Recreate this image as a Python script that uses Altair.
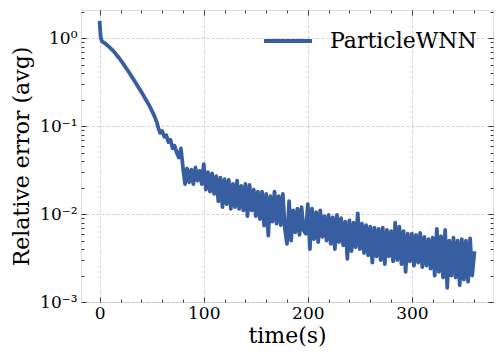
import altair as alt
import pandas as pd

# ---- data ----
series_name = "ParticleWNN"

time_s = [0, 0.5, 1, 2, 3, 5, 7, 9, 11, 13, 15, 17, 19, 21, 23, 25, 27, 29, 31, 33,
          35, 37, 39, 41, 43, 45, 47, 49, 51, 53, 55,
          56, 58, 60, 62, 64, 66, 68, 70, 72, 74, 76, 78, 80, 82, 84, 86, 88, 90, 92, 94,
          96, 98, 100, 102, 104, 106, 108, 110, 112, 114, 116, 118, 120, 122, 124, 126,
          128, 130, 132, 134, 136, 138, 140, 142, 144, 146, 148, 150, 152, 154, 156, 158,
          160, 162, 164, 166, 168, 170, 172, 174, 176, 178, 180, 182, 184, 186, 188, 190,
          192, 194, 196, 198, 200, 202, 204, 206, 208, 210, 212, 214, 216, 218, 220, 222,
          224, 226, 228, 230, 232, 234, 236, 238, 240, 242, 244, 246, 248, 250, 252, 254,
          256, 258, 260, 262, 264, 266, 268, 270, 272, 274, 276, 278, 280, 282, 284, 286,
          288, 290, 292, 294, 296, 298, 300, 302, 304, 306, 308, 310, 312, 314, 316, 318,
          320, 322, 324, 326, 328, 330, 332, 334, 336, 338, 340, 342, 344, 346, 348, 350,
          352, 354, 356, 358, 360]

rel_error = [1.50, 1.20, 1.02, 0.93, 0.91, 0.877, 0.84, 0.80, 0.76, 0.72, 0.675, 0.63,
             0.59, 0.545, 0.505, 0.465, 0.43, 0.395, 0.362, 0.333, 0.306, 0.28, 0.257,
             0.235, 0.214, 0.195, 0.177, 0.16, 0.143, 0.127, 0.11,
             0.098, 0.084, 0.088, 0.076, 0.079, 0.066, 0.070, 0.056, 0.060, 0.050, 0.044,
             0.056, 0.034, 0.022, 0.033, 0.023, 0.032, 0.022, 0.034, 0.024, 0.031, 0.022,
             0.037, 0.019, 0.030, 0.018, 0.029, 0.017, 0.027, 0.014, 0.026, 0.012, 0.025,
             0.013, 0.0245, 0.0115, 0.022, 0.012, 0.024, 0.0115, 0.021, 0.011, 0.022,
             0.0095, 0.0215, 0.011, 0.019, 0.0095, 0.018, 0.0088, 0.018, 0.0074,
             0.017, 0.0057, 0.016, 0.0082, 0.018, 0.0078, 0.016, 0.0075, 0.017, 0.0068,
             0.0046, 0.014, 0.0050, 0.011, 0.0062, 0.0115, 0.0058, 0.012, 0.0065, 0.0060,
             0.013, 0.0040, 0.0115, 0.0052, 0.0105, 0.0048, 0.011, 0.0055, 0.0095, 0.0050,
             0.0098, 0.0046, 0.0092, 0.0040, 0.0098, 0.0048, 0.0090, 0.0044, 0.0082, 0.0031,
             0.0085, 0.0038, 0.0080, 0.0042, 0.0102, 0.0040, 0.0078, 0.0036, 0.0075, 0.0034,
             0.0072, 0.0028, 0.0070, 0.0033, 0.0068, 0.0030, 0.0070, 0.0027, 0.0066, 0.0033,
             0.0064, 0.0029, 0.0080, 0.0030, 0.0072, 0.0027, 0.0064, 0.0022, 0.0060, 0.0029,
             0.0060, 0.0026, 0.0058, 0.0028, 0.0061, 0.0025, 0.0055, 0.0026, 0.0052, 0.0024,
             0.0054, 0.0020, 0.0068, 0.0022, 0.0056, 0.0019, 0.0066, 0.00145, 0.0050, 0.0020,
             0.0054, 0.0019, 0.0050, 0.00155, 0.0052, 0.0018, 0.0050, 0.0017, 0.0053, 0.0020,
             0.0036]

x_major = [0, 100, 200, 300]
x_minor = [20, 40, 60, 80, 120, 140, 160, 180, 220, 240, 260, 280, 320, 340, 360]
y_major = [0.001, 0.01, 0.1, 1]
y_minor = [0.002, 0.003, 0.004, 0.005, 0.006, 0.007, 0.008, 0.009,
           0.02, 0.03, 0.04, 0.05, 0.06, 0.07, 0.08, 0.09,
           0.2, 0.3, 0.4, 0.5, 0.6, 0.7, 0.8, 0.9, 2]

x_title = "time(s)"
y_title = "Relative error (avg)"

df = pd.DataFrame({"t": time_s, "err": rel_error, "series": series_name})

FONT = "DejaVu Serif, Liberation Serif, serif"
LINE_COLOR = "#375ea1"
FRAME = "#3a3a3a"
x_scale = alt.Scale(domain=[-18, 378], nice=False, zero=False)
y_scale = alt.Scale(type="log", domain=[0.001, 2.1], nice=False)

base = alt.Chart(df)

main = base.mark_line(strokeWidth=3.8, strokeJoin="round", strokeCap="square").encode(
    x=alt.X("t:Q", scale=x_scale,
            axis=alt.Axis(title=x_title, values=x_major, ticks=False, domain=False,
                          grid=True, gridColor="#c4c4c4", gridDash=[3, 2], gridWidth=0.8,
                          labelFont=FONT, labelFontSize=17, labelColor="#000000",
                          labelPadding=3, titleFont=FONT, titleFontSize=22,
                          titleFontWeight="normal", titleColor="#000000", titlePadding=4)),
    y=alt.Y("err:Q", scale=y_scale,
            axis=alt.Axis(title=y_title, values=y_major, ticks=False, domain=False,
                          grid=True, gridColor="#c4c4c4", gridDash=[3, 2], gridWidth=0.8,
                          labelExpr="'10' + ['\u207b\u00b3', '\u207b\u00b2', '\u207b\u00b9', '\u2070'][round(log(datum.value) / LN10) + 3]",
                          labelFont=FONT, labelFontSize=17, labelColor="#000000",
                          labelPadding=4, titleFont=FONT, titleFontSize=22,
                          titleFontWeight="normal", titleColor="#000000", titlePadding=6)),
    color=alt.Color("series:N", scale=alt.Scale(range=[LINE_COLOR]),
                    legend=alt.Legend(title=None, orient="none", legendX=181, legendY=5,
                                      symbolType="stroke", symbolSize=2304,
                                      symbolStrokeWidth=4, labelFont=FONT, labelFontSize=22,
                                      labelColor="#000000", labelOffset=16, padding=0)),
)


def tick_layer(xvals, yvals, xorient, yorient, size):
    return base.mark_line(opacity=0).encode(
        x=alt.X("t:Q", scale=x_scale,
                axis=alt.Axis(orient=xorient, values=xvals, offset=-size, tickSize=size,
                              tickColor=FRAME, tickWidth=1, labels=False, domain=False,
                              grid=False, title=None)),
        y=alt.Y("err:Q", scale=y_scale,
                axis=alt.Axis(orient=yorient, values=yvals, offset=-size, tickSize=size,
                              tickColor=FRAME, tickWidth=1, labels=False, domain=False,
                              grid=False, title=None)),
    )


chart = alt.layer(
    main,
    tick_layer(x_major, y_major, "bottom", "left", 5),
    tick_layer(x_major, y_major, "top", "right", 5),
    tick_layer(x_minor, y_minor, "bottom", "left", 3),
    tick_layer(x_minor, y_minor, "top", "right", 3),
).resolve_axis(x="independent", y="independent").properties(
    width=412, height=292,
    autosize=alt.AutoSizeParams(type="none"),
    padding={"left": 73, "top": 2, "right": 3, "bottom": 48},
).configure_view(stroke=FRAME, strokeWidth=1.2).configure(background="white")

chart.save("out.html", embed_options={"renderer": "svg", "actions": False})
